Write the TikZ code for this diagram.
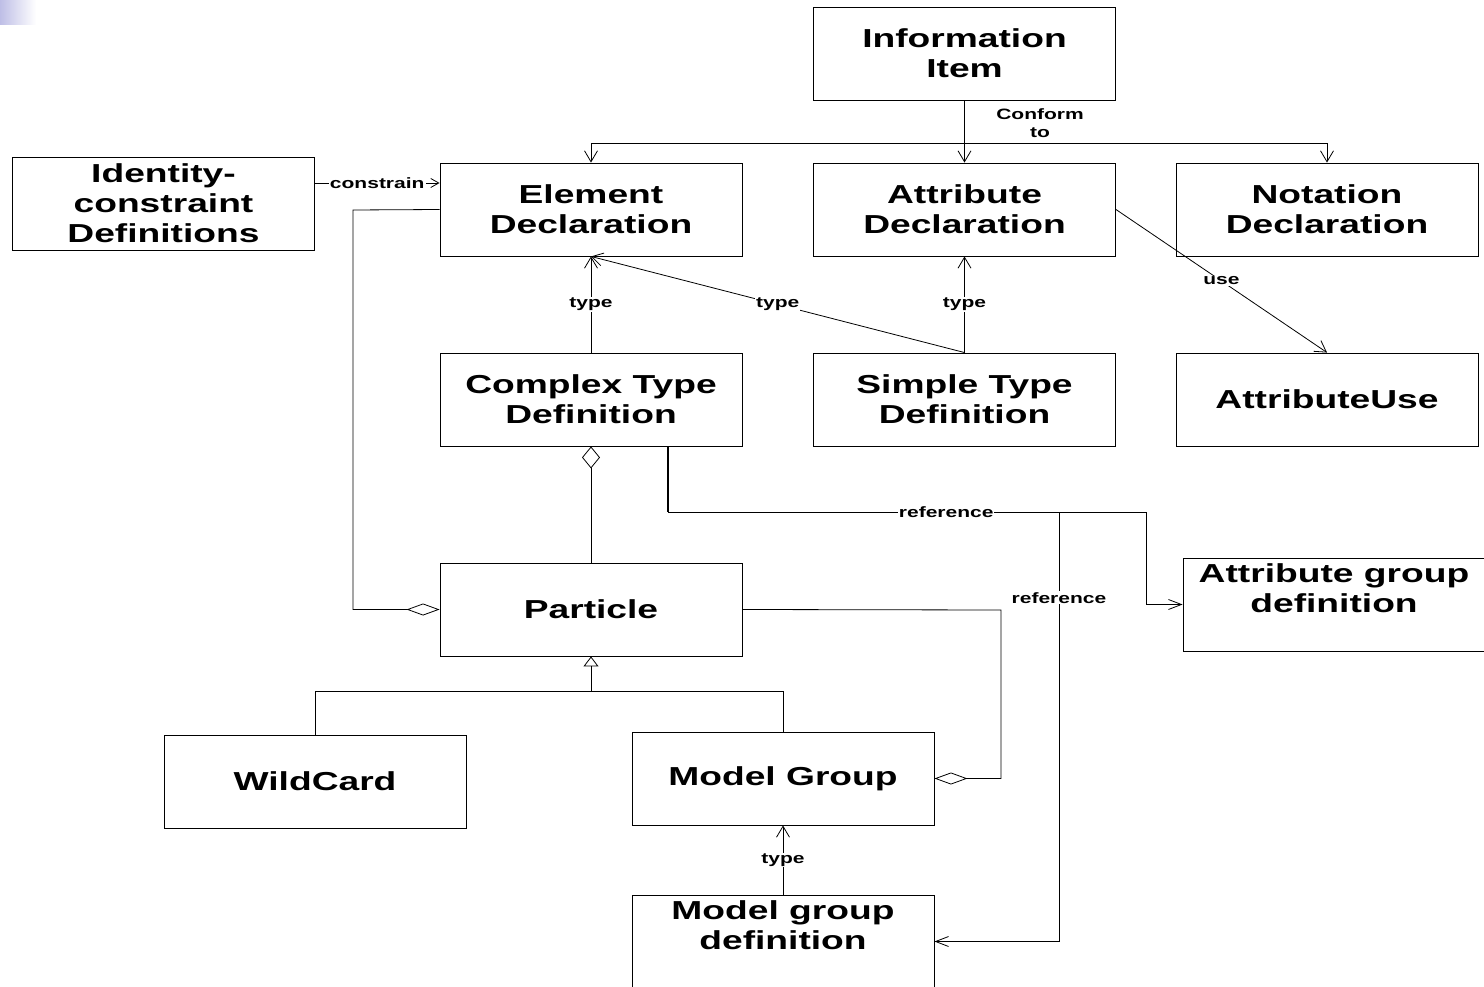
\documentclass[tikz,border=0pt]{standalone}
\usepackage{fontspec}
\newfontfamily\bx{Liberation Sans Bold}[FakeStretch=1.43]
\newfontfamily\bl{Liberation Sans Bold}[FakeStretch=1.4]
\usetikzlibrary{arrows.meta}
\begin{document}
\begin{tikzpicture}[x=1pt,y=-1pt,
  box/.style={draw, line width=0.9pt, minimum width=302pt, minimum height=93pt, inner sep=0pt, align=center, font=\bx\fontsize{26}{30}\selectfont},
  boxtext/.style={inner sep=0pt, align=center, font=\bx\fontsize{26}{30}\selectfont},
  lab/.style={font=\bl\fontsize{15}{18}\selectfont, fill=white, inner sep=1pt, align=center},
  conn/.style={line width=0.8pt},
  arr/.style={conn, -{Straight Barb[length=11pt,width=13pt,line width=0.8pt]}},
  sarr/.style={conn, -{Straight Barb[length=8pt,width=9pt,line width=0.8pt]}},
  rarr/.style={conn, -{Straight Barb[length=13pt,width=10pt,line width=0.8pt]}},
  bigdiam/.style={conn, {Diamond[open,length=22pt,width=18pt,line width=0.8pt]}-},
  flatdiam/.style={conn, -{Diamond[open,length=33pt,width=12pt,line width=0.8pt]}},
  tri/.style={conn, -{Triangle[open,length=10pt,width=15pt,line width=0.8pt]}}
]
\useasboundingbox (0,0) rectangle (1484,987);
\shade[left color={rgb,255:red,190;green,190;blue,230}, right color=white] (0,0) rectangle (36,25);

% boxes
\node[box] (info) at (964.5,53.5) {Information\\Item};
\node[box] (ident) at (163.5,203.5) {Identity-\\constraint\\Definitions};
\node[box] (elem) at (591,209.5) {Element\\Declaration};
\node[box] (attr) at (964.5,209.5) {Attribute\\Declaration};
\node[box] (nota) at (1327,209.5) {Notation\\Declaration};
\node[box] (complex) at (591,399.5) {Complex Type\\Definition};
\node[box] (simple) at (964.5,399.5) {Simple Type\\Definition};
\node[box] (attruse) at (1327,399.5) {AttributeUse};
\node[box] (particle) at (591,609.5) {Particle};
\node[box] (attrgroup) at (1334,604.5) {};
\node[boxtext] at ([yshift=16.5pt]attrgroup.center) {Attribute group\\definition};
\node[box] (wild) at (315,781.5) {WildCard};
\node[box] (mg) at (783,778.5) {Model Group};
\node[box] (mgdef) at (783,941.5) {};
\node[boxtext] at ([yshift=16.5pt]mgdef.center) {Model group\\definition};

% conform to
\coordinate (cj) at (964,143);
\draw[arr] (info.south) -- (attr.north);
\draw[arr] (cj) -| (elem.north);
\draw[arr] (cj) -| (nota.north);
\node[lab, fill=none] (conf) at (1040,123) {Conform\\to};

% constrain
\coordinate (cy) at (0,183);
\draw[sarr] (ident.east |- cy) -- node[lab]{constrain} (elem.west |- cy);

% element -> particle aggregation
\coordinate (ea) at (353,210);
\draw[flatdiam] (elem.west) -- (ea) |- (particle.west);

% types
\draw[arr] (complex.north) -- node[lab]{type} (elem.south);
\draw[arr] (simple.north) -- node[lab]{type} (elem.south);
\draw[arr] (simple.north) -- node[lab]{type} (attr.north |- attr.south);

% use
\draw[arr] (attr.east) -- node[lab]{use} (attruse.north);

% complex -> particle
\draw[bigdiam] (complex.south) -- (particle.north);

% references
\coordinate (rf) at (668,512);
\coordinate (rk) at (1146,512);
\coordinate (rj) at (1059,512);
\draw[line width=1.8pt] (complex.south -| rf) -- (rf);
\draw[rarr] (rf) -- node[lab,pos=0.582]{reference} (rk) |- (attrgroup.west);
\draw[rarr] (rj) -- node[lab,pos=0.2]{reference} (rj |- mgdef.east) -- (mgdef.east);

% particle -> model group aggregation
\coordinate (pm) at (1001,610);
\draw[flatdiam] (particle.east) -- (pm) |- (mg.east);

% inheritance
\coordinate (inh) at (591,691);
\draw[conn] (wild.north) |- (inh);
\draw[conn] (mg.north) |- (inh);
\draw[tri] (inh) -- (particle.south);

% model group def -> model group
\draw[arr] (mgdef.north) -- node[lab]{type} (mg.south);
\end{tikzpicture}
\end{document}
